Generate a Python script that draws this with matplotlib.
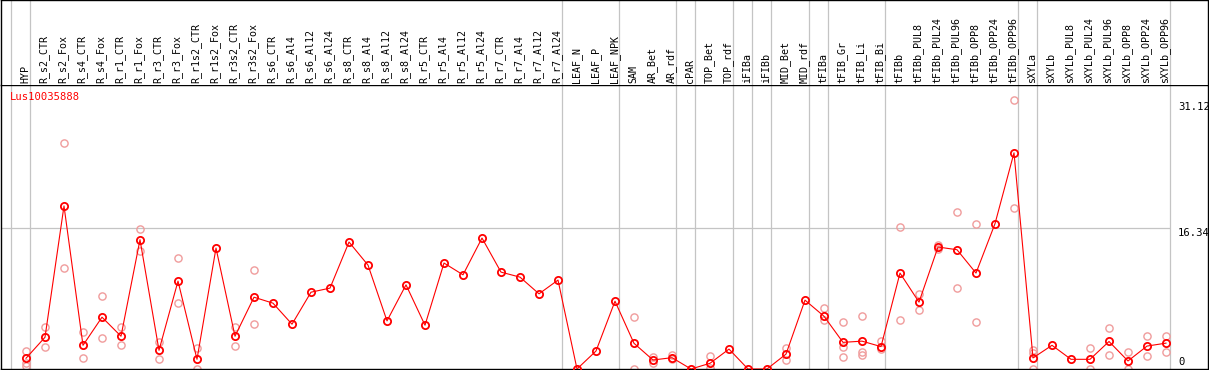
import numpy as np
import matplotlib
matplotlib.use('Agg')
import matplotlib.pyplot as plt
import matplotlib.transforms as mtransforms

nan = np.nan

gene = 'Lus10035888'

samples = ['HYP', 'R_s2_CTR', 'R_s2_Fox', 'R_s4_CTR', 'R_s4_Fox', 'R_r1_CTR', 'R_r1_Fox',
           'R_r3_CTR', 'R_r3_Fox', 'R_r1s2_CTR', 'R_r1s2_Fox', 'R_r3s2_CTR', 'R_r3s2_Fox',
           'R_s6_CTR', 'R_s6_Al4', 'R_s6_Al12', 'R_s6_Al24', 'R_s8_CTR', 'R_s8_Al4',
           'R_s8_Al12', 'R_s8_Al24', 'R_r5_CTR', 'R_r5_Al4', 'R_r5_Al12', 'R_r5_Al24',
           'R_r7_CTR', 'R_r7_Al4', 'R_r7_Al12', 'R_r7_Al24', 'LEAF_N', 'LEAF_P', 'LEAF_NPK',
           'SAM', 'AR_Bet', 'AR_rdf', 'cPAR', 'TOP_Bet', 'TOP_rdf', 'iFIBa', 'iFIBb',
           'MID_Bet', 'MID_rdf', 'tFIBa', 'tFIB_Gr', 'tFIB_Li', 'tFIB_Bi', 'tFIBb',
           'tFIBb_PUL8', 'tFIBb_PUL24', 'tFIBb_PUL96', 'tFIBb_OPP8', 'tFIBb_OPP24',
           'tFIBb_OPP96', 'sXYLa', 'sXYLb', 'sXYLb_PUL8', 'sXYLb_PUL24', 'sXYLb_PUL96',
           'sXYLb_OPP8', 'sXYLb_OPP24', 'sXYLb_OPP96']

# mean expression (red line)
means = [1.24, 3.67, 18.85, 2.74, 5.99, 3.79, 14.95, 2.16, 10.16, 1.12,
         13.98, 3.79, 8.30, 7.61, 5.18, 8.88, 9.35, 14.68, 12.01, 5.56,
         9.73, 5.06, 12.25, 10.89, 15.14, 11.20, 10.62, 8.69, 10.28, 0.0,
         2.08, 7.84, 2.97, 1.04, 1.31, 0.0, 0.66, 2.30, 0.0, 0.0,
         1.72, 7.96, 6.10, 3.08, 3.22, 2.59, 11.09, 7.73, 14.10, 13.79,
         11.09, 16.80, 24.99, 1.28, 2.74, 1.12, 1.12, 3.18, 0.93, 2.65, 2.99]

# replicates (pink circles)
rep1 = [2.10, 4.83, 26.15, 4.25, 8.42, 4.83, 16.22, 3.13, 12.83, 2.43,
        nan, 4.83, 11.44, nan, nan, nan, nan, nan, nan, nan,
        nan, nan, nan, nan, nan, nan, nan, nan, nan, nan,
        nan, nan, 5.99, 1.43, 1.60, nan, 1.45, nan, nan, nan,
        2.39, nan, 7.03, 5.38, 6.10, 3.25, 16.42, 8.69, 14.37, 18.16,
        16.77, nan, 31.12, 2.20, nan, nan, 2.39, 4.70, 2.00, 3.82, 3.82]
rep2 = [0.66, 2.51, 11.67, 1.24, 3.56, 2.74, 13.67, 1.12, 7.60, 0.0,
        nan, 2.63, 5.18, nan, nan, nan, nan, nan, nan, nan,
        nan, nan, nan, nan, nan, nan, nan, nan, nan, nan,
        nan, nan, 0.0, 0.66, 1.15, nan, 0.10, nan, nan, nan,
        1.04, nan, 5.62, 2.58, 2.00, 2.32, 5.68, 6.80, 13.85, 9.35,
        5.41, nan, 18.62, 1.82, nan, nan, 0.0, 1.62, 0.0, 1.50, 2.00]
rep3 = [0.38] + [nan] * 42 + [1.42, 1.62] + [nan] * 8 + [0.0] + [nan] * 7

# last sample index of each group (grey separators)
group_ends = [-1, 0, 28, 31, 34, 35, 37, 38, 39, 41, 42, 45, 52, 53, 60]
ymid = 16.34
ymax = 31.12

W, H = 1209, 370
fig = plt.figure(figsize=(W / 100, H / 100), dpi=100)
ax = fig.add_axes([1 / W, 1 / H, 1207 / W, 284 / H])
axh = fig.add_axes([1 / W, 285 / H, 1207 / W, 85 / H], sharex=ax)

x = np.arange(len(samples))
xmin, xmax = (1 - 26) / 19, (1208 - 26) / 19
ax.set_xlim(xmin, xmax)
ax.set_ylim(0, 284 / 8.65)
axh.set_ylim(0, 1)

grey = '#c4c4c4'
for g in group_ends:
    ax.axvline(g + 0.21, color=grey, lw=0.9, zorder=1)
    axh.axvline(g + 0.21, color=grey, lw=0.9, zorder=1)
ax.hlines(ymid, xmin, group_ends[-1] + 0.21, color=grey, lw=0.9, zorder=1)

pink = '#f09c9c'
for rep in (rep1, rep2, rep3):
    ax.plot(x, rep, 'o', ms=5.2, mfc='none', mec=pink, mew=1.0, zorder=2)
ax.plot(x, means, '-', color='#ff0000', lw=0.8, zorder=3)
ax.plot(x, means, 'o', ms=5.2, mfc='none', mec='#ff0000', mew=1.3, zorder=4)

mono = 'DejaVu Sans Mono'
trh = mtransforms.blended_transform_factory(axh.transData, axh.transAxes)
for i, s in enumerate(samples):
    axh.text(i - 0.05, 0.025, s, rotation=90, ha='center', va='bottom',
             fontsize=7.2, family=mono, transform=trh)

tr = mtransforms.blended_transform_factory(ax.transAxes, ax.transData)
xt = (1178 - 1) / 1207
ax.text(xt, ymax, '%.2f' % ymax, ha='left', va='top', fontsize=7.6, family=mono,
        transform=mtransforms.offset_copy(tr, fig=fig, y=-2, units='dots'))
ax.text(xt, ymid, '%.2f' % ymid, ha='left', va='top', fontsize=7.6, family=mono, transform=tr)
ax.text(xt, 0, '0', ha='left', va='bottom', fontsize=7.6, family=mono,
        transform=mtransforms.offset_copy(tr, fig=fig, y=2, units='dots'))

ax.text(9 / 1207, (369 - 97) / 284, gene, color='#ff0000', ha='left', va='center',
        fontsize=7.6, family=mono, transform=ax.transAxes)

for a in (ax, axh):
    a.set_xticks([])
    a.set_yticks([])
    for sp in a.spines.values():
        sp.set_color('black')
        sp.set_linewidth(1.0)
axh.spines['bottom'].set_visible(False)

fig.savefig('out.png', dpi=100)
